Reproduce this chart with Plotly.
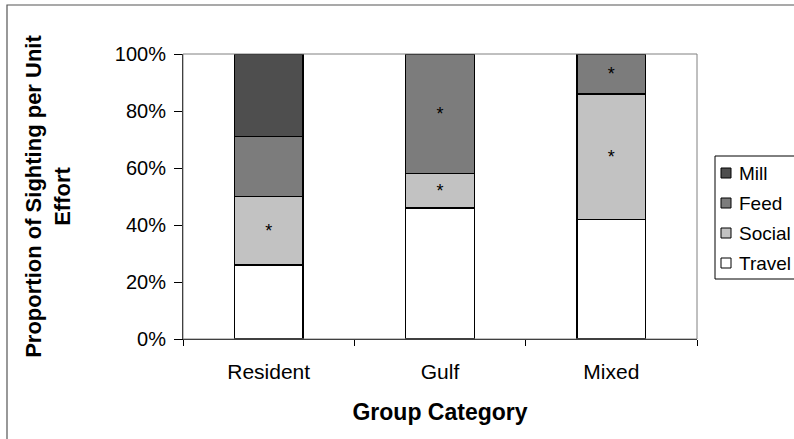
import plotly.graph_objects as go

categories = ["Resident", "Gulf", "Mixed"]
travel = [0.26, 0.46, 0.42]
social = [0.24, 0.12, 0.44]
feed = [0.21, 0.42, 0.14]
mill = [0.29, 0.00, 0.00]

travel_star = ["", "", ""]
social_star = ["*", "*", "*"]
feed_star = ["", "*", "*"]
mill_star = ["", "", ""]

series = [
    ("Travel", travel, travel_star, "#ffffff"),
    ("Social", social, social_star, "#c2c2c2"),
    ("Feed", feed, feed_star, "#7c7c7c"),
    ("Mill", mill, mill_star, "#4e4e4e"),
]

FONT = "Liberation Sans, Arial, sans-serif"

# plot-area geometry in pixels (for converting legend pixel layout to paper coords)
L, R, T, B = 183, 697, 54, 339


def px(x):
    return (x - L) / (R - L)


def py(y):
    return (B - y) / (B - T)


fig = go.Figure()
for name, vals, stars, color in series:
    fig.add_trace(go.Bar(
        name=name, x=categories, y=vals, text=stars,
        textposition="inside", insidetextanchor="middle",
        textfont=dict(size=18, color="#000000", family=FONT),
        marker=dict(color=color, line=dict(color="#000000", width=1.5)),
        hoverinfo="name+y", showlegend=False,
    ))

fig.update_layout(
    barmode="stack",
    bargap=0.6,
    width=794, height=439,
    margin=dict(l=L, r=794 - R, t=T, b=439 - B, autoexpand=False),
    paper_bgcolor="white", plot_bgcolor="white",
    font=dict(family=FONT, size=19, color="#000000"),
    showlegend=False,
    uniformtext=dict(minsize=8, mode="show"),
)

fig.update_yaxes(
    range=[0, 1], tickvals=[0, 0.2, 0.4, 0.6, 0.8, 1.0], tickformat=".0%",
    ticks="outside", ticklen=8, tickcolor="#000000",
    ticklabelstandoff=4,
    showline=True, linecolor="#000000", linewidth=1,
    showgrid=False, zeroline=False,
    tickfont=dict(size=20, family=FONT),
    title=dict(text="<b>Proportion of Sighting per Unit<br>Effort</b>",
               font=dict(size=22, family=FONT), standoff=38),
)
fig.update_xaxes(
    tickson="boundaries", ticks="outside", ticklen=6, tickcolor="#000000",
    ticklabelstandoff=14,
    showline=True, linecolor="#000000", linewidth=1,
    showgrid=False,
    tickfont=dict(size=21, family=FONT),
    title=dict(text="<b>Group Category</b>", font=dict(size=23, family=FONT), standoff=21),
)

# plot area border (top/right) in gray
fig.add_shape(type="rect", xref="paper", yref="paper", x0=0, y0=0, x1=1, y1=1,
              line=dict(color="#808080", width=1), layer="above")
# outer chart border
fig.add_shape(type="rect", xref="paper", yref="paper",
              x0=px(7), y0=py(445), x1=px(800), y1=py(5),
              line=dict(color="#555555", width=1.2), layer="below")

# legend (drawn by hand so it can run off the right edge like the original)
fig.add_shape(type="rect", xref="paper", yref="paper",
              x0=px(715), y0=py(279), x1=px(805), y1=py(156),
              line=dict(color="#000000", width=1), fillcolor="white", layer="above")
legend_rows = [173, 203, 233, 263]
for (name, vals, stars, color), yc in zip(reversed(series), legend_rows):
    fig.add_shape(type="rect", xref="paper", yref="paper",
                  x0=px(721), y0=py(yc + 5), x1=px(731), y1=py(yc - 5),
                  line=dict(color="#000000", width=1), fillcolor=color, layer="above")
    fig.add_annotation(xref="paper", yref="paper", x=px(737), y=py(yc),
                       xanchor="left", yanchor="middle", showarrow=False,
                       text=name, font=dict(size=19, family=FONT, color="#000000"))

fig.write_html("out.html", config={"displayModeBar": False},
               post_script="document.body.style.margin='0';")
